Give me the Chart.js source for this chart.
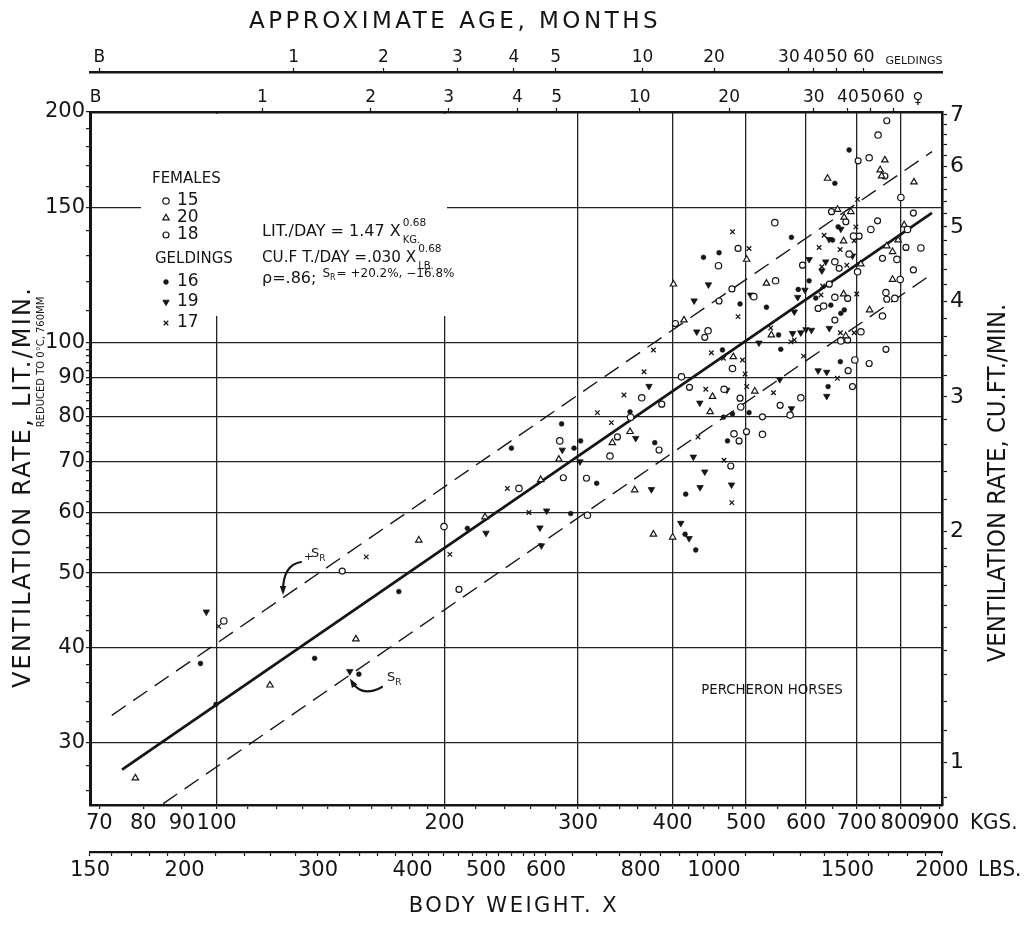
<!DOCTYPE html>
<html>
<head>
<meta charset="utf-8">
<script src="https://cdn.jsdelivr.net/npm/chart.js@4.4.1/dist/chart.umd.min.js"></script>
<style>
html,body{margin:0;padding:0;background:#fff;}
#wrap{position:relative;width:1031px;height:925px;}
</style>
</head>
<body>
<div id="wrap"><canvas id="c" width="1031" height="925"></canvas></div>
<script>
// ---------------- DATA (body weight kg, ventilation lit/min) ----------------
const females15 = [[102.2,43.3],[199.6,57.5],[250.7,64.5],[283.8,74.4],[308.7,59.5],[547,120.4],[799,120.9],[512,114.8],[655,114.6],[765,116.2],[786,114.2],[633,111.6],[757,108.3],[445.5,103.6],[667,100.5],[709,103.3],[696,94.9],[479.8,92.5],[410.9,90.2],[467.7,86.9],[364.1,84.7],[590.6,84.7],[492,82.4],[352,79.9],[571.7,80.4],[482,76],[525.6,75.9],[330.6,71.1],[459.8,126],[747,186.6],[727,174.3],[800.6,154.7],[545.7,143.4],[730.7,140.5],[693.3,137.7],[817,140.5],[684,130.5],[791,128.4],[655,127.5],[701.8,123.7],[850.8,132.9]];
const females18 = [[146.5,50.3],[208.9,47.6],[286.9,66.6],[307.8,66.5],[477.3,69.0],[644,119.2],[479,117.5],[460.6,113.3],[681,114.2],[767,113.9],[622.5,110.8],[403.4,105.9],[655,107],[441,101.6],[681,100.8],[765,98],[727,93.9],[682,91.9],[421,87.4],[691,87.6],[491,84.6],[387,83.1],[554.6,82.8],[525.6,80],[338.2,75.3],[500.7,76.5],[489.5,74.4],[383.8,72.4],[488,132.7],[767,194.8],[703,172.7],[762.6,165],[648.4,148.2],[677.3,143.8],[745.8,144.2],[705,137.7],[813,133.1],[757,128.8],[593.7,126.2],[663.6,125],[831.6,147.6],[831.6,124.4]];
const females20 = [[78.1,27.0],[117.6,35.7],[152.7,41.0],[184.9,55.2],[226.1,59.2],[267.8,66.2],[283,70.4],[356.4,64.2],[377.3,56.2],[400,55.7],[401,119.2],[532,119.5],[672.6,115.7],[414,107],[728,110.3],[540,102.3],[677,102],[481,95.8],[513.5,86.4],[451.5,85],[448.2,81.2],[351.4,76.5],[333,74],[501,128.4],[762.6,173.1],[751.8,168],[755,165],[640.6,163.8],[660.4,149.2],[687.6,148.2],[673.7,145.7],[808.7,142.4],[672.6,135.7],[794,136.1],[767,133.7],[780.6,131.4],[708.9,126.6],[780.6,120.9],[833,162]];
const geldings16 = [[95.2,38.1],[99.8,33.7],[134.7,38.7],[154.1,36.9],[174,47.3],[214.3,57.2],[245,72.8],[285.4,78.3],[302.4,74.4],[296.4,72.8],[293.4,59.8],[317.5,65.5],[416.2,63.4],[415.4,56.2],[429.1,53.6],[586,117.3],[491,112.3],[618,114.3],[532,111.2],[647,111.9],[674,110.3],[667,109.2],[552,102.3],[465.4,97.8],[555.7,98],[666,94.4],[641.7,87.6],[351.4,81.2],[466.8,79.9],[479.8,80.7],[504.6,81],[472.6,74.4],[378.8,74],[439.3,129.2],[460.6,131],[684,178.4],[655,161.4],[661.6,141.6],[574,137.2],[650.4,136.1],[605.7,120.4]];
const geldings19 = [[96.9,44.5],[149.9,37.2],[226.8,56.4],[286,72.4],[301.8,69.9],[272.7,60.3],[267.2,57.3],[268.4,54.3],[375,64.3],[434.8,64.7],[478.4,65.2],[410,58.1],[420.5,55.5],[441,67.8],[446,119],[598,117.1],[507,115.4],[427,113.4],[585,114.6],[579,109.7],[644,104.4],[430.4,103.3],[576,102.8],[590.6,103],[600,104],[610,103.8],[520,99.9],[622.5,91.9],[639,91.5],[554,89.5],[372.3,87.7],[471.6,86.7],[639,85.1],[434.4,83.4],[574,82],[357.5,75],[426,70.9],[667,140.7],[643.7,136.4],[691,129.8],[605.7,128.4],[637,127.5],[629.6,124.1]];
const geldings17 = [[100.6,42.6],[157.6,52.5],[203.2,52.9],[242,64.5],[258.4,60.0],[478.8,61.8],[467.7,70.2],[631,118.5],[628,115.4],[700,115.7],[488,108.1],[539,104.5],[573,100.2],[579,100.8],[666,103],[694.6,103],[377.3,97.8],[450,97],[466.8,95.4],[494.6,94.9],[595.5,96],[366.7,91.6],[498.6,91],[660,89.8],[501,87.6],[442.4,86.9],[345,85.4],[543.5,86],[318.2,81],[332,78.6],[432,75.3],[479.8,139.5],[504.6,132.7],[701.8,153.8],[698.2,141.6],[634,138.1],[694.6,135.8],[624.4,133.1],[665.6,132.3],[629.6,125.6],[679.3,126.2]];

// regression line and +20.2 % / -16.8 % bands, end points
const fitLine   = [[75,27.7],[880,147.7]];
const upperLine = [[72.7,32.6],[880,177.5]];
const lowerLine = [[85,25.0],[880,122.9]];

// axis ranges / ticks
const KG_MIN = 68.04, KG_MAX = 907.2;
const LIT_MIN = 24.9, LIT_MAX = 200;
const kgTicks  = [70,80,90,100,200,300,400,500,600,700,800,900];
const kgGrid   = [100,200,300,400,500,600,700,800];
const kgMinor  = [110,120,130,140,150,160,170,180,190,220,240,260,280,320,340,360,380,420,440,460,480,550,650,750,850];
const lbsTicks = [150,200,300,400,500,600,800,1000,1500,2000];
const lbsMinor = [160,170,180,190,220,240,260,280,320,340,360,380,420,440,460,480,520,540,560,580,650,700,750,850,900,950,1100,1200,1300,1400,1600,1700,1800,1900];
const litTicks = [30,40,50,60,70,80,90,100,150,200];
const litGrid  = [30,40,50,60,70,80,90,100,150];
const litMinor = [26,28,32,34,36,38,42,44,46,48,52,54,56,58,62,64,66,68,72,74,76,78,82,84,86,88,92,94,96,98,110,120,130,140,160,170,180,190];
const cuftTicks = [1,2,3,4,5,6,7];
const cuftMinor = [0.9,1.1,1.2,1.3,1.4,1.5,1.6,1.7,1.8,1.9,2.2,2.4,2.6,2.8,3.2,3.4,3.6,3.8,4.2,4.4,4.6,4.8,5.2,5.4,5.6,5.8,6.2,6.4,6.6,6.8];
const geldingsAgeLabels = ['B','1','2','3','4','5','10','20','30','40','50','60','GELDINGS'];
const geldingsAgeKg     = [70.0,126.4,166.0,207.9,246.9,280.3,365.0,453.7,569.6,614.5,659.0,715.4,833];
const femalesAgeLabels  = ['B','1','2','3','4','5','10','20','30','40','50','60','\u2640'];
const femalesAgeKg      = [69.2,114.9,159.7,202.5,249.5,281.2,361.9,475.0,614.5,681.5,730.8,783.8,843.2];
const LIT_PER_CUFT = 28.317, KG_PER_LB = 0.45359;

// ---------------- STYLE ----------------
const FONT = "'DejaVu Sans', 'Liberation Sans', sans-serif";
const INK = '#151515';
const CLEAR = 'rgba(0,0,0,0)';
Chart.defaults.font.family = FONT;
Chart.defaults.color = INK;

const toXY = arr => arr.map(([x,y]) => ({x, y}));
function tickSetter(major, minor, lo, hi){
  return function(scale){
    const all = Array.from(new Set(major.concat(minor))).filter(v => v >= lo*0.9999 && v <= hi*1.0001).sort((a,b)=>a-b);
    scale.ticks = all.map(v => ({value: v}));
  };
}
const styles = {
  f15: {pointStyle:'circle', radius:3.2, rotation:0, borderWidth:1.2, fill:'#fff'},
  f20: {pointStyle:'triangle', radius:3.7, rotation:0, borderWidth:1.2, fill:'#fff'},
  f18: {pointStyle:'circle', radius:3.0, rotation:0, borderWidth:1.2, fill:'#fff'},
  g16: {pointStyle:'circle', radius:2.4, rotation:0, borderWidth:0.6, fill:INK},
  g19: {pointStyle:'triangle', radius:3.7, rotation:180, borderWidth:0.8, fill:INK},
  g17: {pointStyle:'crossRot', radius:3.2, rotation:0, borderWidth:1.3, fill:INK}
};
function pointSet(label, arr, st){
  return {label, data: toXY(arr), pointStyle: st.pointStyle, pointRadius: st.radius, pointRotation: st.rotation,
          pointBorderWidth: st.borderWidth, pointBorderColor: INK, pointBackgroundColor: st.fill, showLine:false, order:0};
}
function lineSet(label, arr, width, dash){
  return {label, data: toXY(arr), showLine:true, pointRadius:0, borderColor:INK, borderWidth:width, borderDash:dash, order:10, clip:0};
}

// ---------------- ANNOTATION PLUGIN ----------------
function txt(ctx, s, x, y, size, o){
  o = o || {};
  ctx.save();
  ctx.font = size + 'px ' + FONT;
  ctx.fillStyle = INK;
  ctx.textAlign = o.align || 'left';
  ctx.textBaseline = o.base || 'middle';
  if ('letterSpacing' in ctx) ctx.letterSpacing = (o.ls || 0) + 'px';
  ctx.translate(x, y);
  if (o.rot) ctx.rotate(o.rot);
  ctx.scale(o.sx || 1, 1);
  ctx.fillText(s, 0, 0);
  const w = ctx.measureText(s).width * (o.sx || 1);
  ctx.restore();
  return w;
}
function curvedArrow(ctx, sx, sy, cx, cy, ex, ey){
  ctx.save();
  ctx.strokeStyle = INK; ctx.fillStyle = INK; ctx.lineWidth = 2.2; ctx.lineCap = 'round';
  ctx.beginPath(); ctx.moveTo(sx, sy); ctx.quadraticCurveTo(cx, cy, ex, ey); ctx.stroke();
  const ang = Math.atan2(ey - cy, ex - cx);
  ctx.translate(ex, ey); ctx.rotate(ang);
  ctx.beginPath(); ctx.moveTo(4, 0); ctx.lineTo(-5, -3.2); ctx.lineTo(-5, 3.2); ctx.closePath(); ctx.fill();
  ctx.restore();
}
const annotations = {
  id: 'annotations',
  beforeDatasetsDraw(chart){
    const {ctx, chartArea:a} = chart;
    ctx.save(); ctx.fillStyle = '#fff';
    // blank area behind legend / equations (grid interrupted there in the original)
    ctx.fillRect(a.left + 51, a.top + 2, 306, 202);
    ctx.restore();
  },
  afterDraw(chart){
    const {ctx} = chart;
    // axis titles
    txt(ctx, 'APPROXIMATE AGE, MONTHS', 455, 22, 23, {align:'center', ls:3.5});
    txt(ctx, 'VENTILATION RATE, LIT./MIN.', 24, 487, 24, {align:'center', rot:-Math.PI/2, ls:2.2});
    txt(ctx, 'REDUCED TO 0\u00B0C, 760MM', 41, 362, 10, {align:'center', rot:-Math.PI/2});
    txt(ctx, 'VENTILATION RATE, CU.FT./MIN.', 999, 483, 24, {align:'center', rot:-Math.PI/2, sx:0.95});
    txt(ctx, 'BODY WEIGHT. X', 514, 907, 21, {align:'center', ls:2.5});
    // unit words on the bottom scales
    txt(ctx, 'KGS.', 970, 824, 21, {sx:0.95});
    txt(ctx, 'LBS.', 978, 871, 21, {sx:0.95});
    // legend
    txt(ctx, 'FEMALES', 152, 179, 15);
    txt(ctx, 'GELDINGS', 155, 259, 15);
    const rows = [['f15','15',201],['f20','20',218],['f18','18',235],['g16','16',282],['g19','19',302],['g17','17',323]];
    rows.forEach(([k, s, y]) => {
      const st = styles[k];
      ctx.save(); ctx.strokeStyle = INK; ctx.fillStyle = st.fill; ctx.lineWidth = st.borderWidth;
      Chart.helpers.drawPoint(ctx, {pointStyle: st.pointStyle, radius: st.radius, rotation: st.rotation, borderWidth: st.borderWidth}, 166, y);
      ctx.restore();
      txt(ctx, s, 177, y, 17);
    });
    // equations
    let w = txt(ctx, 'LIT./DAY = 1.47 X', 262, 232, 16, {sx:1.0});
    txt(ctx, '0.68', 264 + w, 223, 10.5);
    txt(ctx, 'KG.', 264 + w, 240, 10);
    w = txt(ctx, 'CU.F T./DAY =.030 X', 262, 258, 16, {sx:0.95});
    txt(ctx, '0.68', 264 + w, 249, 10.5);
    txt(ctx, 'LB.', 264 + w, 266, 10);
    w = txt(ctx, '\u03C1=.86;', 262, 279, 16);
    let x = 262 + w + 6;
    x += txt(ctx, 'S', x, 274, 12);
    x += txt(ctx, 'R', x, 278, 8);
    txt(ctx, '= +20.2%, \u221216.8%', x + 1, 274, 12);
    // percheron label
    txt(ctx, 'PERCHERON HORSES', 772, 690, 14, {align:'center', sx:0.95});
    // S_R markers
    let sx = 304;
    txt(ctx, '+', sx, 557, 11); sx += 7;
    sx += txt(ctx, 'S', sx, 554, 13);
    txt(ctx, 'R', sx, 559, 9);
    curvedArrow(ctx, 301, 562, 283, 565, 283, 591);
    sx = 387;
    sx += txt(ctx, 'S', sx, 678, 13);
    txt(ctx, 'R', sx, 683, 9);
    curvedArrow(ctx, 382, 687, 362, 698, 352, 682);
  }
};

// ---------------- CHART ----------------
const tickFont = size => ({family: FONT, size});
new Chart(document.getElementById('c'), {
  type: 'scatter',
  data: {
    datasets: [
      pointSet('Females 15', females15, styles.f15),
      pointSet('Females 20', females20, styles.f20),
      pointSet('Females 18', females18, styles.f18),
      pointSet('Geldings 16', geldings16, styles.g16),
      pointSet('Geldings 19', geldings19, styles.g19),
      pointSet('Geldings 17', geldings17, styles.g17),
      lineSet('Regression', fitLine, 2.8, []),
      lineSet('+S_R', upperLine, 1.4, [17, 9]),
      lineSet('-S_R', lowerLine, 1.4, [17, 9])
    ]
  },
  options: {
    responsive: false,
    animation: false,
    events: [],
    devicePixelRatio: 1,
    layout: {padding: 0, autoPadding: false},
    plugins: {legend: {display: false}, tooltip: {enabled: false}, title: {display: false}},
    scales: {
      x: {
        type: 'logarithmic', position: 'bottom', weight: 0, min: KG_MIN, max: KG_MAX,
        afterFit: s => { s.height = 47; },
        afterBuildTicks: tickSetter(kgTicks, kgMinor, KG_MIN, KG_MAX),
        ticks: {autoSkip: false, maxRotation: 0, minRotation: 0, padding: 1.5, color: INK, font: tickFont(21),
                callback: v => kgTicks.includes(v) ? String(v) : ''},
        grid: {color: c => (c.tick && kgGrid.includes(c.tick.value)) ? '#222' : CLEAR, lineWidth: 1.3,
               tickColor: INK, tickLength: 4, tickWidth: 1.2},
        border: {color: INK, width: 2.6}
      },
      x2: {
        type: 'logarithmic', position: 'bottom', weight: 1, min: KG_MIN / KG_PER_LB, max: KG_MAX / KG_PER_LB,
        afterFit: s => { s.height = 73; },
        afterBuildTicks: tickSetter(lbsTicks, lbsMinor, 150, 2000.1),
        ticks: {autoSkip: false, maxRotation: 0, minRotation: 0, padding: 1.5, color: INK, font: tickFont(21),
                callback: v => lbsTicks.includes(v) ? String(v) : ''},
        grid: {drawOnChartArea: false, tickColor: INK, tickLength: 4, tickWidth: 1.2},
        border: {color: INK, width: 2.2}
      },
      xf: {
        type: 'logarithmic', position: 'top', weight: 0, min: KG_MIN, max: KG_MAX,
        afterFit: s => { s.height = 40; },
        afterBuildTicks: scale => { scale.ticks = femalesAgeKg.map(v => ({value: v})); },
        ticks: {autoSkip: false, maxRotation: 0, minRotation: 0, padding: 0, color: INK,
                font: c => tickFont(c.index === femalesAgeLabels.length - 1 ? 15 : 17),
                callback: (v, i) => femalesAgeLabels[i]},
        grid: {drawOnChartArea: false, tickLength: 4, tickWidth: 1.2,
               tickColor: c => (c.index === 0 || c.index === femalesAgeLabels.length - 1) ? CLEAR : INK},
        border: {color: INK, width: 2.6}
      },
      xg: {
        type: 'logarithmic', position: 'top', weight: 1, min: KG_MIN, max: KG_MAX,
        afterFit: s => { s.height = 72; },
        afterBuildTicks: scale => { scale.ticks = geldingsAgeKg.map(v => ({value: v})); },
        ticks: {autoSkip: false, maxRotation: 0, minRotation: 0, padding: 0, color: INK,
                font: c => tickFont(c.index === geldingsAgeLabels.length - 1 ? 11 : 17),
                callback: (v, i) => geldingsAgeLabels[i]},
        grid: {drawOnChartArea: false, tickLength: 4, tickWidth: 1.2,
               tickColor: c => (c.index === geldingsAgeLabels.length - 1) ? CLEAR : INK},
        border: {color: INK, width: 2.4}
      },
      y: {
        type: 'logarithmic', position: 'left', min: LIT_MIN, max: LIT_MAX,
        afterFit: s => { s.width = 90; },
        afterBuildTicks: tickSetter(litTicks, litMinor, LIT_MIN, LIT_MAX),
        ticks: {autoSkip: false, padding: 1, color: INK, font: tickFont(21),
                callback: v => litTicks.includes(v) ? String(v) : ''},
        grid: {color: c => (c.tick && litGrid.includes(c.tick.value)) ? '#222' : CLEAR, lineWidth: 1.3,
               tickColor: INK, tickLength: 4, tickWidth: 1.2},
        border: {color: INK, width: 3}
      },
      y2: {
        type: 'logarithmic', position: 'right', min: LIT_MIN / LIT_PER_CUFT, max: LIT_MAX / LIT_PER_CUFT,
        afterFit: s => { s.width = 89; },
        afterBuildTicks: tickSetter(cuftTicks, cuftMinor, LIT_MIN / LIT_PER_CUFT, LIT_MAX / LIT_PER_CUFT),
        ticks: {autoSkip: false, padding: 3, color: INK, font: tickFont(22),
                callback: v => cuftTicks.includes(v) ? String(v) : ''},
        grid: {drawOnChartArea: false, tickColor: INK, tickLength: 5, tickWidth: 1.2},
        border: {color: INK, width: 2.6}
      }
    }
  },
  plugins: [annotations]
});
</script>
</body>
</html>
